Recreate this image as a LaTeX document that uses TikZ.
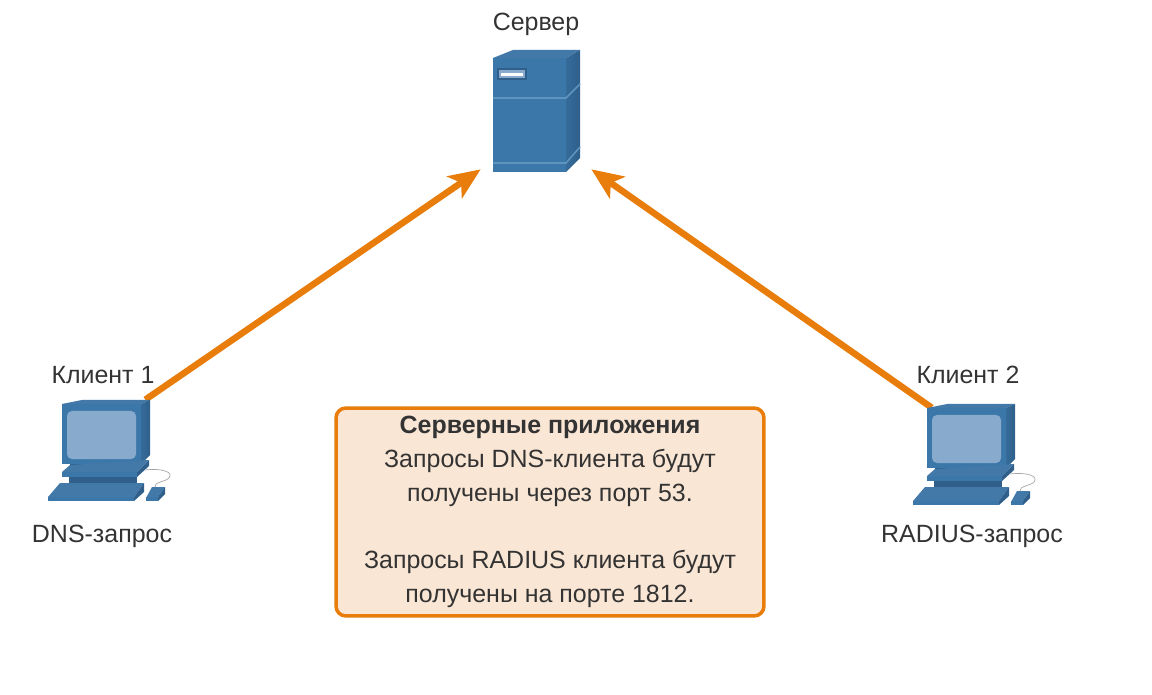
\documentclass[tikz,border=0pt]{standalone}
\usepackage{fontspec}
\setmainfont{Liberation Sans}
\usetikzlibrary{arrows.meta}
\definecolor{pcblue}{HTML}{3C77A9}
\definecolor{pcdark}{HTML}{2F5F8A}
\definecolor{pctop}{HTML}{4379A8}
\definecolor{pclight}{HTML}{5F94BE}
\definecolor{pcscreen}{HTML}{88ABCD}
\definecolor{reqorange}{HTML}{E87D0B}
\definecolor{notefill}{HTML}{FAE6D4}
\definecolor{labeltext}{HTML}{333333}
\tikzset{
  hitbox/.style={minimum width=1.56cm,minimum height=1.12cm,inner sep=0pt},
  caption/.style={text=labeltext,font=\fontsize{14.2}{15}\selectfont},
  request/.style={reqorange,line width=3.7pt,-{Stealth[length=18pt,width=15pt,inset=4.5pt]}},
  sideface/.style={left color=pcblue!50!pcdark,right color=pcdark},
  computer/.pic={
    \fill[pcblue] (0,4) rectangle (79,64);
    \fill[pctop] (0,4) -- (20,0) -- (88,0) -- (79,4) -- cycle;
    \shade[sideface] (79,4) -- (88,0) -- (88,55) -- (79,64) -- cycle;
    \fill[pcscreen,rounded corners=2.8pt] (5,11) rectangle (74,59);
    % stand
    \fill[pcdark] (8,64) rectangle (79,66);
    \fill[pctop] (0,72) -- (8,65) -- (87,60) -- (75,72) -- cycle;
    \fill[pcblue] (0,72) rectangle (75,77);
    \fill[pcdark] (75,72) -- (87,60) -- (87,66) -- (75,77) -- cycle;
    \fill[pcdark] (7,77) rectangle (75,83);
    % keyboard
    \fill[pctop] (-14,97) -- (-2,83) -- (82,83) -- (72,97) -- cycle;
    \fill[pcblue] (-14,97) rectangle (72,101);
    \fill[pcdark] (72,97) -- (82,83) -- (82,92) -- (72,101) -- cycle;
    % mouse
    \draw[black!35,line width=0.4pt] (83,70) .. controls (100,68) and (112,72) .. (107,78) .. controls (103,82) and (92,82) .. (93,87);
    \fill[pctop] (84,98) -- (90,87) -- (103,87) -- (96,97) -- cycle;
    \fill[pcblue] (84,97) rectangle (96,101);
    \fill[pcdark] (96,97) -- (103,87) -- (103,94) -- (96,101) -- cycle;
  }
}
\begin{document}
\begin{tikzpicture}[x=0.02cm,y=-0.02cm]
  \useasboundingbox (0,0) rectangle (1152,695);
  % anchors for the requests
  \node[minimum width=2.2cm,minimum height=2.36cm,inner sep=0pt] (server) at (536,110) {};
  \node[hitbox] (client1) at (106,428) {};
  \node[hitbox] (client2) at (971,436) {};
  \draw[request] (client1.north east) -- (server.south west);
  \draw[request] (client2.north west) -- (server.south east);
  % server
  \fill[pcblue] (493,58) rectangle (566,172);
  \fill[pctop] (493,58) -- (513,50) -- (580,50) -- (566,58) -- cycle;
  \shade[sideface] (566,58) -- (580,50) -- (580,158) -- (566,172) -- cycle;
  \draw[pclight,line width=0.9pt] (493,98) -- (566,98) -- (580,84);
  \draw[pclight,line width=0.9pt] (493,163) -- (566,163) -- (580,147);
  \fill[pcdark] (497,68) rectangle (527,80);
  \fill[pcscreen] (499,70) rectangle (525,78);
  \fill[white] (501,73) rectangle (523,76);
  % clients
  \pic at (62,400) {computer};
  \pic at (927,404) {computer};
  % labels
  \node[caption] (serverlabel) at (536,24) {Сервер};
  \node[caption] (client1label) at (103,375) {Клиент 1};
  \node[caption] (client2label) at (968,375) {Клиент 2};
  \node[caption] (dnslabel) at (102,536) {DNS-запрос};
  \node[caption] (radiuslabel) at (972,536) {RADIUS-запрос};
  % note
  \node[draw=reqorange,fill=notefill,line width=2pt,rounded corners=5.6pt,minimum width=8.56cm,minimum height=4.16cm,inner sep=0pt,
    align=center,text=labeltext,font=\fontsize{14.2}{19.2}\selectfont] (note) at (550,512)
    {\textbf{Серверные приложения}\\Запросы DNS-клиента будут\\получены через порт 53.\\[19.2pt]Запросы RADIUS клиента будут\\получены на порте 1812.};
\end{tikzpicture}
\end{document}
